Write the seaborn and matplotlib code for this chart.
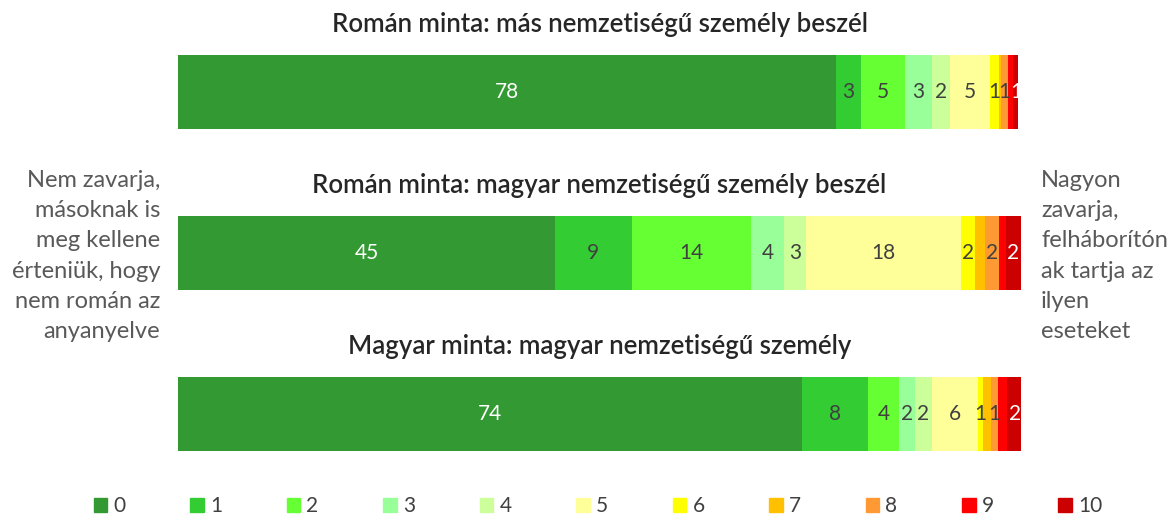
"""Stacked horizontal bars: how much it bothers people when someone speaks
a language other than the majority one (0 = not at all, 10 = very much)."""

import pandas as pd
import matplotlib.pyplot as plt
from matplotlib.patches import Patch
import seaborn as sns

sns.set_theme(style="white")
plt.rcParams["font.family"] = ["Lato", "DejaVu Sans"]

# --- data -----------------------------------------------------------------
row_titles = [
    "Román minta: más nemzetiségű személy beszél",
    "Román minta: magyar nemzetiségű személy beszél",
    "Magyar minta: magyar nemzetiségű személy",
]
scores = ["0", "1", "2", "3", "4", "5", "6", "7", "8", "9", "10"]

roman_mas = [78, 3.0, 5.2, 3.3, 2.1, 4.7, 1.1, 0.2, 0.9, 0.6, 0.6]
roman_magyar = [44.7, 9.1, 14.2, 3.9, 2.6, 18.4, 1.7, 1.1, 1.7, 0.8, 1.8]
magyar_magyar = [74, 7.8, 3.75, 1.85, 2.0, 5.5, 0.6, 0.9, 0.9, 1.05, 1.8]

colors = ["#339933", "#33CC33", "#66FF33", "#99FF99", "#CCFF99", "#FFFF99",
          "#FFFF00", "#FFC000", "#FF9933", "#FF0000", "#CC0000"]
unlabelled = ["7", "9"]

left_note = "Nem zavarja,\nmásoknak is\nmeg kellene\nérteniük, hogy\nnem román az\nanyanyelve"
right_note = "Nagyon\nzavarja,\nfelháborítón\nak tartja az\nilyen\neseteket"

df = pd.DataFrame([roman_mas, roman_magyar, magyar_magyar],
                  columns=scores, index=row_titles)

# --- plot -----------------------------------------------------------------
fig = plt.figure(figsize=(11.75, 5.16), dpi=100)
ax = fig.add_axes([178 / 1175, 21 / 516, 843 / 1175, 483.75 / 516])

# draw cumulative bars from the last score back to the first
for k in reversed(range(len(scores))):
    cum = df.iloc[:, : k + 1].sum(axis=1)
    sns.barplot(x=cum.values, y=list(df.index), orient="h", color=colors[k],
                saturation=1, width=0.46, linewidth=0, ax=ax)

for i, title in enumerate(df.index):
    start = 0
    for k, s in enumerate(scores):
        v = df.loc[title, s]
        if s not in unlabelled and v >= 0.5:
            txt_color = "white" if s in ("0", "10") else "#404040"
            ax.text(start + v / 2, i, str(round(v)), ha="center", va="center",
                    fontsize=15, color=txt_color)
        start += v
    ax.text(50, i - 0.42, title, ha="center", va="center", fontsize=18.5,
            fontweight="semibold", color="#262626")

ax.set_xlim(0, 100)
ax.set_ylim(2.5, -0.5)
ax.set_axis_off()

fig.text(160 / 1175, 1 - 256 / 516, left_note, ha="right", va="center",
         fontsize=17, color="#595959", linespacing=1.55)
fig.text(1041 / 1175, 1 - 256 / 516, right_note, ha="left", va="center",
         fontsize=17, color="#595959", linespacing=1.55)

handles = [Patch(color=c) for c in colors]
fig.legend(handles, scores, loc="center", bbox_to_anchor=(0.509, 1 - 506 / 516),
           ncol=len(scores), frameon=False, fontsize=15, handlelength=0.65,
           handleheight=0.65, handletextpad=0.3, columnspacing=3.1,
           labelcolor="#404040")

fig.savefig("out.png", dpi=100)
